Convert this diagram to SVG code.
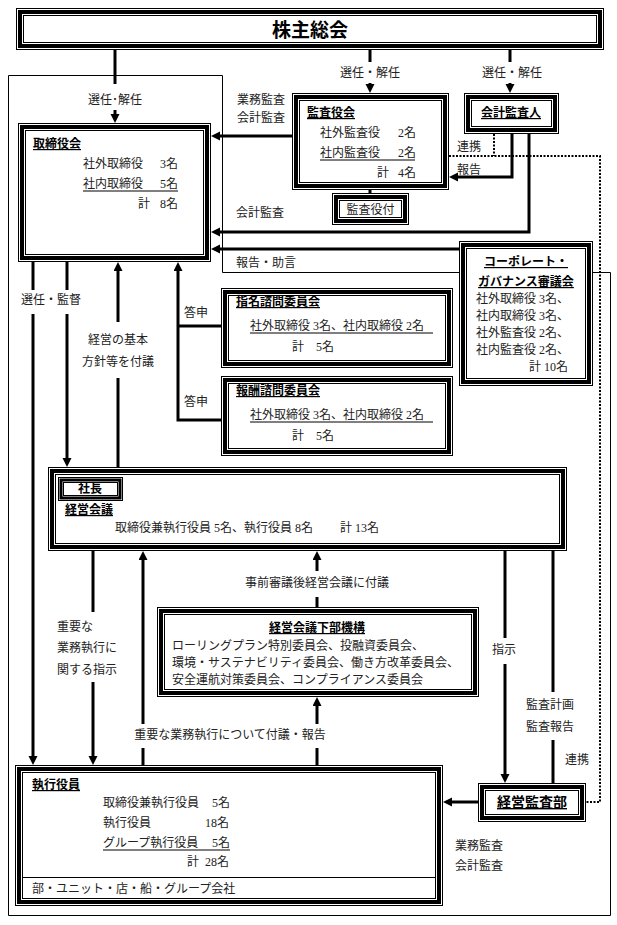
<svg xmlns="http://www.w3.org/2000/svg" width="617" height="925" viewBox="0 0 617 925">
<style>
text{font-family:"Liberation Serif","Noto Sans CJK JP",serif;font-size:12px;fill:#222}
.c{text-anchor:middle}
.h{font-family:"Liberation Sans","Noto Sans CJK JP",sans-serif;font-weight:bold;fill:#000;text-decoration:underline}
.o{fill:#fff;stroke:#000;stroke-width:1}
.k{fill:none;stroke:#000;stroke-width:4}
.k3{fill:none;stroke:#000;stroke-width:3}
.i{fill:none;stroke:#000;stroke-width:1}
.ln{fill:none;stroke:#000;stroke-width:3}
.ar{fill:none;stroke:#000;stroke-width:3;marker-end:url(#ah)}
.thin{fill:none;stroke:#000;stroke-width:1}
.dot{fill:none;stroke:#000;stroke-width:2;stroke-dasharray:2 1.5}
.ul{stroke:#000;stroke-width:1}
</style>
<defs>
<marker id="ah" markerUnits="userSpaceOnUse" markerWidth="10" markerHeight="10" refX="5" refY="4.5" orient="auto">
<path d="M0,0 L9,4.5 L0,9 z" fill="#000"/>
</marker>
</defs>

<g id="frame">
<path class="thin" d="M8.5,75.5 H222.5 V272.5 H610.5 V915.5 H8.5 Z"/>
</g>

<g id="connectors">
<line class="ln" x1="115" y1="50" x2="115" y2="84"/>
<line class="ar" x1="115" y1="110" x2="115" y2="119"/>
<line class="ln" x1="370" y1="50" x2="370" y2="62"/>
<line class="ar" x1="370" y1="83" x2="370" y2="89"/>
<line class="ln" x1="510" y1="50" x2="510" y2="62"/>
<line class="ar" x1="510" y1="83" x2="510" y2="89"/>
<line class="ar" x1="292" y1="136" x2="215" y2="136"/>
<polyline class="ar" points="529,134 529,232 215,232"/>
<line class="ar" x1="459" y1="249" x2="215" y2="249"/>
<polyline class="ar" points="512,134 512,177 453,177"/>
<line class="ln" x1="370" y1="189" x2="370" y2="194"/>
<polyline class="dot" points="494,134 494,156"/>
<polyline class="dot" points="449,156 600,156 600,802 586,802"/>
<line class="ln" x1="33" y1="262" x2="33" y2="290"/>
<line class="ar" x1="33" y1="314" x2="33" y2="761"/>
<line class="ln" x1="67" y1="262" x2="67" y2="290"/>
<line class="ar" x1="67" y1="314" x2="67" y2="463"/>
<line class="ar" x1="118" y1="322" x2="118" y2="266"/>
<line class="ln" x1="118" y1="378" x2="118" y2="467"/>
<polyline class="ar" points="221,420 178,420 178,266"/>
<line class="ln" x1="221" y1="326" x2="178" y2="326"/>
<line class="ln" x1="93" y1="551" x2="93" y2="612"/>
<line class="ar" x1="93" y1="682" x2="93" y2="761"/>
<line class="ln" x1="143" y1="765" x2="143" y2="748"/>
<line class="ar" x1="143" y1="724" x2="143" y2="555"/>
<line class="ln" x1="317" y1="607" x2="317" y2="597"/>
<line class="ar" x1="317" y1="571" x2="317" y2="555"/>
<line class="ln" x1="317" y1="765" x2="317" y2="748"/>
<line class="ar" x1="317" y1="724" x2="317" y2="701"/>
<polyline class="ar" points="553,692 553,483 127,483"/>
<line class="ln" x1="553" y1="740" x2="553" y2="783"/>
<polyline class="ln" points="123,490 505,490 505,638"/>
<line class="ar" x1="505" y1="664" x2="505" y2="779"/>
<line class="ar" x1="478" y1="802" x2="447" y2="802"/>
</g>

<g id="n-shareholders">
<rect class="o" x="16.5" y="8.5" width="587" height="41"/>
<rect class="k" x="20" y="12" width="580" height="34"/>
<rect class="i" x="23.5" y="15.5" width="573" height="27"/>
<text class="c" x="310" y="37" style="font-family:'Liberation Sans','Noto Sans CJK JP',sans-serif;font-size:19px;font-weight:bold;fill:#000">株主総会</text>
</g>

<g id="n-board">
<rect class="o" x="18.5" y="123.5" width="192" height="138"/>
<rect class="k" x="22" y="127" width="185" height="131"/>
<rect class="i" x="25.5" y="130.5" width="178" height="124"/>
<text class="h" x="33" y="148">取締役会</text>
<text x="83" y="168">社外取締役</text><text x="160" y="168">3名</text>
<text x="83" y="188">社内取締役</text><text x="160" y="188">5名</text>
<line class="ul" x1="83" y1="191" x2="178" y2="191"/>
<text x="138" y="208">計</text><text x="160" y="208">8名</text>
</g>

<g id="n-kansayakukai">
<rect class="o" x="292.5" y="93.5" width="156" height="96"/>
<rect class="k" x="296" y="97" width="149" height="89"/>
<rect class="i" x="299.5" y="100.5" width="142" height="82"/>
<text class="h" x="307" y="117">監査役会</text>
<text x="320" y="137">社外監査役</text><text x="398" y="137">2名</text>
<text x="320" y="157">社内監査役</text><text x="398" y="157">2名</text>
<line class="ul" x1="320" y1="160" x2="415" y2="160"/>
<text x="377" y="177">計</text><text x="398" y="177">4名</text>
</g>

<g id="n-kansayakutsuki">
<rect class="o" x="332.5" y="193.5" width="76" height="31"/>
<rect class="k" x="336" y="197" width="69" height="24"/>
<rect class="i" x="339.5" y="200.5" width="62" height="17"/>
<text class="c" x="370.5" y="214">監査役付</text>
</g>

<g id="n-auditor">
<rect class="o" x="464.5" y="93.5" width="94" height="40"/>
<rect class="k" x="468" y="97" width="87" height="33"/>
<rect class="i" x="471.5" y="100.5" width="80" height="26"/>
<text class="h c" x="511" y="117">会計監査人</text>
</g>

<g id="n-cg">
<rect class="o" x="459.5" y="241.5" width="133" height="144"/>
<rect class="k" x="463" y="245" width="126" height="137"/>
<rect class="i" x="466.5" y="248.5" width="119" height="130"/>
<text class="h c" x="526" y="266">コーポレート・</text>
<text class="h c" x="526" y="286">ガバナンス審議会</text>
<text x="476" y="303">社外取締役 3名、</text>
<text x="476" y="320">社内取締役 3名、</text>
<text x="476" y="337">社外監査役 2名、</text>
<text x="476" y="354">社内監査役 2名、</text>
<text x="529" y="371">計 10名</text>
</g>

<g id="n-nomination">
<rect class="o" x="221.5" y="288.5" width="231" height="79"/>
<rect class="k" x="225" y="292" width="224" height="72"/>
<rect class="i" x="228.5" y="295.5" width="217" height="65"/>
<text class="h" x="236" y="306">指名諮問委員会</text>
<text x="250" y="330">社外取締役 3名、社内取締役 2名</text>
<line class="ul" x1="250" y1="333" x2="433" y2="333"/>
<text x="292" y="351">計　5名</text>
</g>

<g id="n-remuneration">
<rect class="o" x="221.5" y="376.5" width="231" height="79"/>
<rect class="k" x="225" y="380" width="224" height="72"/>
<rect class="i" x="228.5" y="383.5" width="217" height="65"/>
<text class="h" x="236" y="395">報酬諮問委員会</text>
<text x="250" y="419">社外取締役 3名、社内取締役 2名</text>
<line class="ul" x1="250" y1="422" x2="433" y2="422"/>
<text x="292" y="440">計　5名</text>
</g>

<g id="n-meeting">
<rect class="o" x="48.5" y="467.5" width="518" height="83"/>
<rect class="k" x="52" y="471" width="511" height="76"/>
<rect class="i" x="55.5" y="474.5" width="504" height="69"/>
<text class="h" x="65" y="514">経営会議</text>
<text x="115" y="532">取締役兼執行役員 5名、執行役員 8名</text>
<text x="340" y="532">計 13名</text>
</g>

<g id="n-president">
<rect class="o" x="58.5" y="477.5" width="64" height="23"/>
<rect class="k3" x="61" y="480" width="59" height="18"/>
<rect class="i" x="63.5" y="482.5" width="54" height="13"/>
<text class="c" x="90" y="493" style="font-weight:bold;fill:#000">社長</text>
</g>

<g id="n-subcommittee">
<rect class="o" x="157.5" y="607.5" width="321" height="89"/>
<rect class="k" x="161" y="611" width="314" height="82"/>
<rect class="i" x="164.5" y="614.5" width="307" height="75"/>
<text class="h c" x="317" y="632">経営会議下部機構</text>
<text x="172" y="650">ローリングプラン特別委員会、投融資委員会、</text>
<text x="172" y="667">環境・サステナビリティ委員会、働き方改革委員会、</text>
<text x="172" y="684">安全運航対策委員会、コンプライアンス委員会</text>
</g>

<g id="n-officers">
<rect class="o" x="15.5" y="765.5" width="427" height="140"/>
<rect class="k" x="19" y="769" width="420" height="133"/>
<rect class="i" x="22.5" y="772.5" width="413" height="126"/>
<line class="ul" x1="23" y1="877.5" x2="435" y2="877.5"/>
<text class="h" x="32" y="789">執行役員</text>
<text x="103" y="807">取締役兼執行役員</text><text x="212" y="807">5名</text>
<text x="103" y="827">執行役員</text><text x="205" y="827">18名</text>
<text x="103" y="847">グループ執行役員</text><text x="212" y="847">5名</text>
<line class="ul" x1="103" y1="850" x2="230" y2="850"/>
<text x="187" y="866">計</text><text x="205" y="866">28名</text>
<text x="32" y="893">部・ユニット・店・船・グループ会社</text>
</g>

<g id="n-auditdept">
<rect class="o" x="478.5" y="783.5" width="107" height="38"/>
<rect class="k" x="482" y="787" width="100" height="31"/>
<rect class="i" x="485.5" y="790.5" width="93" height="24"/>
<text class="h c" x="532" y="807" style="font-size:14px">経営監査部</text>
</g>

<g id="labels">
<text class="c" x="370" y="77">選任・解任</text>
<text class="c" x="512" y="77">選任・解任</text>
<text class="c" x="115" y="104">選任･解任</text>
<text class="c" x="261" y="104">業務監査</text>
<text class="c" x="261" y="122">会計監査</text>
<text x="457" y="151">連携</text>
<text x="457" y="174">報告</text>
<text x="236" y="217">会計監査</text>
<text x="236" y="267">報告・助言</text>
<text class="c" x="196" y="317">答申</text>
<text class="c" x="196" y="406">答申</text>
<text class="c" x="51" y="304">選任・監督</text>
<text class="c" x="118" y="344">経営の基本</text>
<text class="c" x="118" y="366">方針等を付議</text>
<text class="c" x="317" y="587">事前審議後経営会議に付議</text>
<text x="57" y="631">重要な</text>
<text x="57" y="652">業務執行に</text>
<text x="57" y="674">関する指示</text>
<text class="c" x="504" y="654">指示</text>
<text class="c" x="550" y="709">監査計画</text>
<text class="c" x="550" y="731">監査報告</text>
<text class="c" x="230" y="739">重要な業務執行について付議・報告</text>
<text x="565" y="764">連携</text>
<text x="455" y="850">業務監査</text>
<text x="455" y="870">会計監査</text>
</g>
</svg>
